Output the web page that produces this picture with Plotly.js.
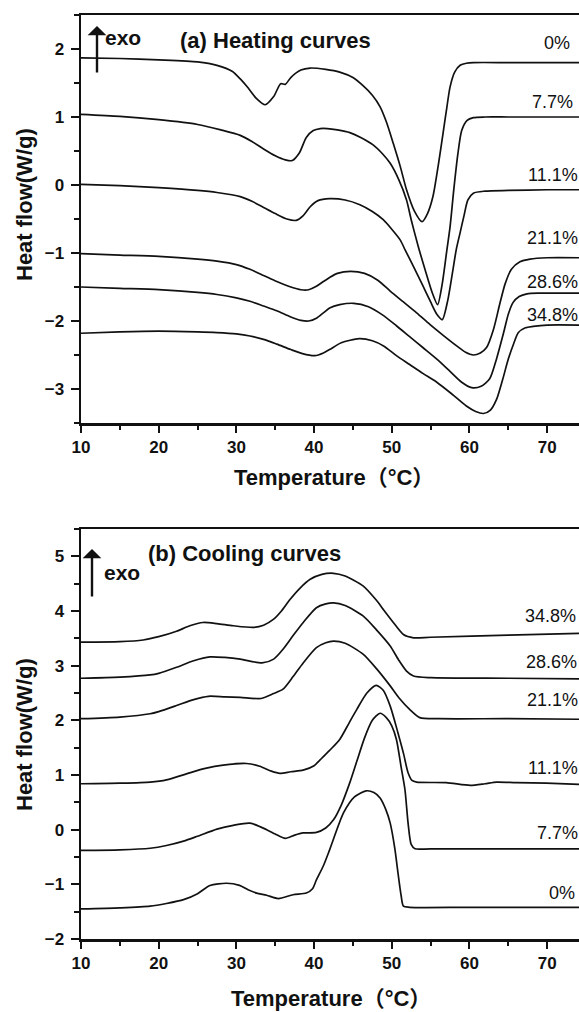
<!DOCTYPE html>
<html>
<head>
<meta charset="utf-8">
<script src="https://cdn.plot.ly/plotly-3.0.1.min.js"></script>
<style>
html,body{margin:0;padding:0;background:#fff;}
#chart{width:579px;height:1012px;}
</style>
</head>
<body>
<div id="chart"></div>
<script>
// ---------- DATA: heating curves (panel a) ----------
const heatLabels = ['0%', '7.7%', '11.1%', '21.1%', '28.6%', '34.8%'];

const tempH0 = [10, 15, 20, 25, 27.5, 29.5, 30.5, 31.5, 32.6, 33.7, 34.8, 35.7, 36.3, 37.0, 38.3, 39.5, 41.5, 43.3, 45, 46.3, 47.5, 48.5, 49.3, 50.2, 51.1, 51.9, 52.9, 53.9, 54.6, 55.3, 56, 56.6, 57.1, 57.5, 58.1, 58.8, 59.6, 60.5, 65, 70, 74.1];
const flowH0 = [1.87, 1.86, 1.84, 1.81, 1.76, 1.67, 1.56, 1.43, 1.27, 1.18, 1.30, 1.49, 1.48, 1.58, 1.69, 1.72, 1.70, 1.66, 1.58, 1.46, 1.32, 1.15, 0.93, 0.61, 0.27, -0.07, -0.38, -0.54, -0.42, -0.17, 0.30, 0.76, 1.15, 1.44, 1.66, 1.76, 1.79, 1.80, 1.80, 1.80, 1.80];

const tempH77 = [10, 15, 20, 25, 28, 30.5, 32, 33.5, 35, 36.3, 37.2, 38.1, 39, 39.9, 40.8, 41.7, 43, 44.6, 46, 47.6, 48.8, 49.8, 50.9, 51.9, 52.5, 53.4, 54.3, 55.2, 55.9, 56.5, 57.1, 57.5, 58.0, 58.5, 59.0, 59.7, 60.5, 62, 65, 70, 74.1];
const flowH77 = [1.04, 1.01, 0.96, 0.89, 0.81, 0.73, 0.64, 0.53, 0.43, 0.37, 0.36, 0.47, 0.70, 0.80, 0.83, 0.83, 0.81, 0.77, 0.70, 0.59, 0.46, 0.32, 0.08, -0.22, -0.51, -0.90, -1.25, -1.58, -1.76, -1.45, -0.95, -0.62, -0.05, 0.45, 0.80, 0.95, 0.99, 1.00, 1.00, 1.00, 1.00];

const tempH111 = [10, 15, 20, 25, 27.5, 30.5, 32, 33.5, 35, 36.5, 37.7, 38.6, 39.5, 40.5, 42, 44, 45.9, 47.5, 48.9, 50, 51.1, 51.7, 52.8, 54, 55, 55.8, 56.5, 57.2, 57.8, 58.3, 58.8, 59.3, 59.8, 60.5, 62, 65, 70, 74.1];
const flowH111 = [0.01, -0.01, -0.04, -0.08, -0.11, -0.17, -0.24, -0.33, -0.42, -0.50, -0.52, -0.45, -0.32, -0.23, -0.20, -0.22, -0.29, -0.39, -0.51, -0.65, -0.81, -0.95, -1.20, -1.48, -1.72, -1.90, -1.98, -1.70, -1.30, -0.95, -0.70, -0.45, -0.22, -0.12, -0.09, -0.08, -0.07, -0.07];

const tempH211 = [10, 15, 20, 25, 27.5, 30, 31.75, 33.5, 35.2, 37, 38.3, 39.3, 40.3, 41.2, 42, 43, 44.7, 46.5, 48.2, 49.8, 51.5, 53.2, 54.9, 56.5, 58.4, 59.5, 60.5, 61.4, 62.2, 63.1, 63.9, 64.6, 65.4, 66.5, 67.8, 70, 74.1];
const flowH211 = [-1.01, -1.03, -1.05, -1.09, -1.12, -1.17, -1.24, -1.33, -1.42, -1.50, -1.54, -1.54, -1.49, -1.42, -1.36, -1.30, -1.27, -1.30, -1.40, -1.56, -1.72, -1.88, -2.05, -2.20, -2.37, -2.46, -2.50, -2.47, -2.39, -2.12, -1.75, -1.45, -1.24, -1.13, -1.09, -1.07, -1.07];

const tempH286 = [10, 15, 20, 25, 27.5, 30, 31.75, 33.5, 35.2, 37, 38.3, 39.3, 40.3, 41.2, 42, 43.3, 45.1, 47, 48.8, 50.6, 52.3, 54, 55.8, 57.5, 59, 60.3, 61.5, 62.6, 63.5, 64.4, 65.0, 65.6, 66.4, 67.4, 69, 74.1];
const flowH286 = [-1.50, -1.52, -1.54, -1.58, -1.61, -1.66, -1.71, -1.78, -1.85, -1.94, -1.99, -2.00, -1.96, -1.88, -1.81, -1.76, -1.74, -1.79, -1.91, -2.07, -2.23, -2.39, -2.56, -2.74, -2.90, -2.98, -2.96, -2.85, -2.55, -2.17, -1.90, -1.73, -1.64, -1.60, -1.59, -1.59];

const tempH348 = [10, 15, 20, 25, 27.5, 30, 31.75, 33.5, 35.2, 37, 38.5, 40.1, 41.2, 42, 43.5, 45.8, 47.5, 49, 50.6, 52.3, 54, 55.8, 57.7, 59.6, 60.8, 61.8, 62.7, 63.5, 64.3, 65.0, 65.7, 66.3, 67.2, 68.2, 70, 74.1];
const flowH348 = [-2.18, -2.16, -2.15, -2.16, -2.17, -2.19, -2.22, -2.27, -2.34, -2.42, -2.48, -2.51, -2.47, -2.42, -2.32, -2.26, -2.29, -2.37, -2.51, -2.64, -2.77, -2.90, -3.07, -3.25, -3.33, -3.36, -3.31, -3.15, -2.85, -2.56, -2.33, -2.17, -2.10, -2.08, -2.06, -2.06];

// ---------- DATA: cooling curves (panel b) ----------
const coolLabels = ['34.8%', '28.6%', '21.1%', '11.1%', '7.7%', '0%'];

const tempC0 = [10, 15, 18.9, 21, 23.2, 25, 26.6, 28.75, 30.4, 31.5, 32.6, 33.9, 35.4, 37.3, 39, 39.8, 40.3, 41.2, 42.0, 43.8, 45.2, 46.7, 47.7, 48.5, 49.2, 49.8, 50.4, 50.8, 51.2, 51.5, 52.3, 60, 74.1];
const flowC0 = [-1.45, -1.43, -1.40, -1.35, -1.28, -1.17, -1.02, -0.98, -1.02, -1.10, -1.16, -1.20, -1.26, -1.19, -1.16, -1.08, -0.92, -0.66, -0.37, 0.31, 0.60, 0.71, 0.68, 0.58, 0.38, 0.12, -0.35, -0.79, -1.20, -1.40, -1.42, -1.42, -1.42];

const tempC77 = [10, 15, 18.9, 21, 23.2, 25, 27.5, 29.6, 31.75, 33.9, 35, 36.3, 37.5, 38.6, 40.3, 41.5, 42.5, 43.5, 44.6, 45.5, 46.5, 47.5, 48.5, 49.3, 50.0, 50.6, 51.2, 51.7, 52.1, 52.5, 53.0, 55, 74.1];
const flowC77 = [-0.38, -0.37, -0.34, -0.29, -0.21, -0.12, 0.01, 0.08, 0.12, 0.00, -0.08, -0.16, -0.10, -0.06, -0.05, 0.03, 0.18, 0.45, 0.86, 1.25, 1.68, 2.00, 2.13, 2.05, 1.90, 1.65, 1.15, 0.73, 0.12, -0.27, -0.35, -0.35, -0.35];

const tempC111 = [10, 15, 18.9, 21, 24, 26, 28.3, 31.3, 33, 34.5, 35.6, 37, 38.6, 40, 40.8, 42, 43.3, 44.5, 45.5, 46.8, 48.0, 48.9, 49.8, 50.8, 51.5, 52.1, 52.6, 53.2, 57, 60.1, 62, 63.5, 66, 69.9, 74.1];
const flowC111 = [0.84, 0.85, 0.87, 0.91, 1.04, 1.12, 1.18, 1.21, 1.16, 1.07, 1.03, 1.06, 1.09, 1.17, 1.28, 1.45, 1.65, 1.95, 2.20, 2.50, 2.64, 2.55, 2.26, 1.77, 1.40, 1.04, 0.90, 0.87, 0.86, 0.81, 0.84, 0.87, 0.86, 0.85, 0.83];

const tempC211 = [10, 15, 18.9, 20, 22.3, 24.5, 26.4, 28.5, 30.5, 33.2, 34.8, 36, 37.3, 38.6, 40.3, 41.5, 42.5, 44, 46.3, 48, 49.8, 51, 52.3, 53.6, 56, 65, 74.1];
const flowC211 = [2.03, 2.06, 2.12, 2.16, 2.27, 2.38, 2.44, 2.43, 2.42, 2.40, 2.49, 2.57, 2.80, 3.05, 3.33, 3.42, 3.45, 3.41, 3.21, 2.95, 2.63, 2.40, 2.20, 2.05, 2.03, 2.03, 2.02];

const tempC286 = [10, 15, 18.9, 20, 22.3, 24.5, 26.6, 28.5, 30.5, 33.3, 34.8, 36, 37.3, 38.6, 40.3, 41.5, 42.5, 44, 46.3, 48, 49.8, 50.9, 51.9, 52.8, 55, 65, 74.1];
const flowC286 = [2.77, 2.79, 2.83, 2.86, 2.97, 3.09, 3.16, 3.15, 3.12, 3.05, 3.12, 3.30, 3.55, 3.79, 4.06, 4.13, 4.15, 4.10, 3.91, 3.66, 3.36, 3.10, 2.90, 2.81, 2.78, 2.77, 2.76];

const tempC348 = [10, 15, 18, 20, 22.3, 24, 25.7, 27.5, 29.6, 32.2, 33.5, 34.8, 35.8, 36.9, 38.2, 39.5, 41, 42.5, 44, 46.3, 48, 48.9, 50.2, 51.5, 52.8, 55, 65, 74.1];
const flowC348 = [3.43, 3.44, 3.47, 3.53, 3.63, 3.73, 3.79, 3.77, 3.73, 3.70, 3.74, 3.85, 4.00, 4.21, 4.42, 4.58, 4.67, 4.69, 4.64, 4.46, 4.20, 4.03, 3.79, 3.57, 3.51, 3.52, 3.56, 3.59];

const xTickVals = [10, 20, 30, 40, 50, 60, 70];

// ---------- LAYOUT helpers ----------
const W = 579, H = 1012, ML = 81, MR = 0, MT = 15, MB = 73;
const PW = W - ML - MR, PH = H - MT - MB;
const fx = px => (px - ML) / PW;
const fy = py => (H - MB - py) / PH;

const FONT = 'Liberation Sans, Arial, Helvetica, Noto Sans CJK SC, sans-serif';
const lineStyle = {color: '#111', width: 1.7, shape: 'spline', smoothing: 0.7};

function tr(x, y, xa, ya) {
  return {x: x, y: y, xaxis: xa, yaxis: ya, type: 'scatter', mode: 'lines',
          line: lineStyle, showlegend: false, hoverinfo: 'skip'};
}

const traces = [
  tr(tempH0, flowH0, 'x', 'y'),
  tr(tempH77, flowH77, 'x', 'y'),
  tr(tempH111, flowH111, 'x', 'y'),
  tr(tempH211, flowH211, 'x', 'y'),
  tr(tempH286, flowH286, 'x', 'y'),
  tr(tempH348, flowH348, 'x', 'y'),
  tr(tempC0, flowC0, 'x2', 'y2'),
  tr(tempC77, flowC77, 'x2', 'y2'),
  tr(tempC111, flowC111, 'x2', 'y2'),
  tr(tempC211, flowC211, 'x2', 'y2'),
  tr(tempC286, flowC286, 'x2', 'y2'),
  tr(tempC348, flowC348, 'x2', 'y2')
];

const tickFont = {family: FONT, size: 17, color: '#111', weight: 'bold'};
function xAxis(anchor) {
  return {
    anchor: anchor, domain: [0, 1], range: [10, 74.1],
    tickmode: 'array', tickvals: xTickVals, ticktext: xTickVals.map(String),
    ticks: 'outside', ticklen: 7, tickwidth: 2, tickcolor: '#111',
    minor: {dtick: 5, tick0: 0, ticks: 'outside', ticklen: 4, tickwidth: 2, tickcolor: '#111', showgrid: false},
    showline: true, linewidth: 2.5, linecolor: '#111', mirror: true,
    showgrid: false, zeroline: false, tickfont: tickFont
  };
}
function yAxis(anchor, domain, range) {
  return {
    anchor: anchor, domain: domain, range: range,
    dtick: 1, tick0: 0,
    ticks: 'outside', ticklen: 8, tickwidth: 2, tickcolor: '#111',
    minor: {dtick: 0.5, tick0: 0, ticks: 'outside', ticklen: 5, tickwidth: 2, tickcolor: '#111', showgrid: false},
    showline: true, linewidth: 2.5, linecolor: '#111', mirror: false,
    showgrid: false, zeroline: false, tickfont: tickFont, ticklabelstandoff: 3
  };
}

const ann = [];
function txt(t, px, py, opts) {
  ann.push(Object.assign({
    text: t, xref: 'paper', yref: 'paper', x: fx(px), y: fy(py),
    xanchor: 'left', yanchor: 'middle', showarrow: false,
    font: {family: FONT, size: 18, color: '#111'}
  }, opts || {}));
}
function arrow(px, pyHead, pyTail) {
  ann.push({
    text: '', xref: 'paper', yref: 'paper', x: fx(px), y: fy(pyHead),
    ax: 0, ay: pyTail - pyHead, showarrow: true, arrowhead: 1, arrowsize: 1.3,
    arrowwidth: 2.4, arrowcolor: '#111', standoff: 0, startstandoff: 0
  });
}
const boldBig = {font: {family: FONT, size: 22, color: '#111', weight: 'bold'}};

// panel titles and exo arrows
txt('(a) Heating curves', 178, 40, boldBig);
txt('exo', 103, 38, {font: {family: FONT, size: 21, color: '#111', weight: 'bold'}});
arrow(97, 26, 74);
txt('(b) Cooling curves', 146, 553, boldBig);
txt('exo', 102, 572, {font: {family: FONT, size: 21, color: '#111', weight: 'bold'}});
arrow(92, 549, 598);

// axis titles
const axTitleFont = {family: FONT, size: 22, color: '#111', weight: 'bold'};
txt('Heat flow(W/g)', 25, 205, {xanchor: 'center', textangle: -90, font: axTitleFont});
txt('Heat flow(W/g)', 24, 735, {xanchor: 'center', textangle: -90, font: axTitleFont});
txt('Temperature（°C）', 334, 477, {xanchor: 'center', font: axTitleFont});
txt('Temperature（°C）', 331, 998, {xanchor: 'center', font: axTitleFont});

// curve labels (right-anchored so the text stays inside the picture)
const heatLabelPos = [[572, 43], [575, 102], [580, 175], [580, 238], [580, 282], [580, 315]];
heatLabels.forEach((l, i) => txt(l, heatLabelPos[i][0], heatLabelPos[i][1], {xanchor: 'right'}));
const coolLabelPos = [[578, 616], [579, 662], [580, 700], [580, 768], [580, 833], [577, 893]];
coolLabels.forEach((l, i) => txt(l, coolLabelPos[i][0], coolLabelPos[i][1], {xanchor: 'right'}));

const layout = {
  width: W, height: H,
  margin: {l: ML, r: MR, t: MT, b: MB, pad: 0},
  paper_bgcolor: '#fff', plot_bgcolor: '#fff',
  font: {family: FONT, color: '#111'},
  showlegend: false,
  xaxis: xAxis('y'),
  yaxis: yAxis('x', [fy(423), 1], [-3.5, 2.5]),
  xaxis2: xAxis('y2'),
  yaxis2: yAxis('x2', [0, fy(529)], [-2, 5.5]),
  annotations: ann
};

Plotly.newPlot('chart', traces, layout, {staticPlot: true, displayModeBar: false});
</script>
</body>
</html>
